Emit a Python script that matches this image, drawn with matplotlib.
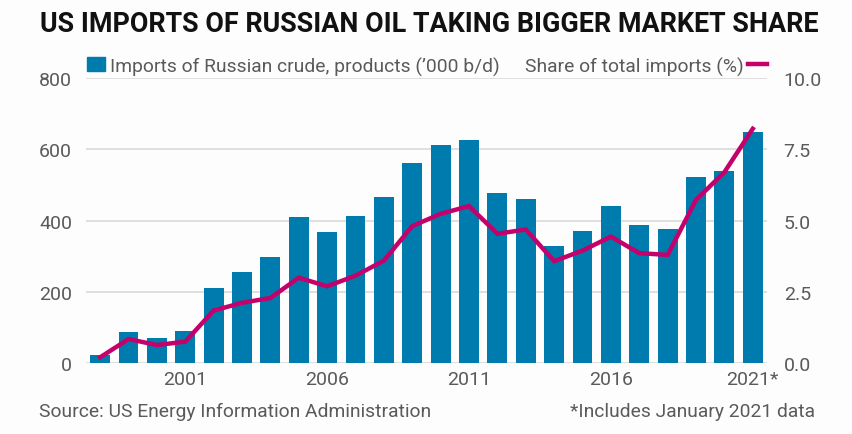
import numpy as np
import matplotlib
matplotlib.use("Agg")
import matplotlib.pyplot as plt
from matplotlib import font_manager

years = list(range(1998, 2022))
imports_kbd = [23, 89, 72, 90, 210, 255, 298, 410, 369, 414, 465, 563,
               613, 625, 478, 461, 330, 370, 442, 389, 376, 522, 540, 648]
share_pct = [0.21, 0.85, 0.64, 0.76, 1.85, 2.12, 2.29, 3.0, 2.70, 3.07, 3.6, 4.81,
             5.24, 5.51, 4.54, 4.69, 3.58, 3.95, 4.44, 3.86, 3.80, 5.73, 6.70, 8.22]
xtick_years = [2001, 2006, 2011, 2016, 2021]
xtick_labels = ["2001", "2006", "2011", "2016", "2021*"]
left_ticks = [0, 200, 400, 600, 800]
right_ticks = [0.0, 2.5, 5.0, 7.5, 10.0]

BLUE = "#007bad"
PINK = "#c4006b"
GREY = "#5a5a5a"
GRID = "#dcdcdc"

names = {f.name for f in font_manager.fontManager.ttflist}
body_font = "Roboto" if "Roboto" in names else "DejaVu Sans"
title_font = "Liberation Sans Narrow" if "Liberation Sans Narrow" in names else body_font
plt.rcParams['font.family'] = [body_font, 'DejaVu Sans']

fig = plt.figure(figsize=(8.52, 4.35), dpi=100, facecolor="#fdfdfd")
ax = fig.add_axes([0.1009, 0.1625, 0.7993, 0.6559])
ax.set_facecolor("#fdfdfd")
ax2 = ax.twinx()

ax.bar(years, imports_kbd, width=0.7, color=BLUE, zorder=2)
ax2.plot(years, share_pct, color=PINK, lw=3.2, solid_joinstyle="miter", zorder=3)

ax.set_xlim(1997.5, 2021.5)
ax.set_ylim(0, 800)
ax2.set_ylim(0, 10)
ax.set_yticks(left_ticks)
ax.set_yticklabels([str(t) for t in left_ticks])
ax2.set_yticks(right_ticks)
ax2.set_yticklabels([f"{t:.1f}" for t in right_ticks])
ax.set_xticks(xtick_years)
ax.set_xticklabels(xtick_labels)

ax.grid(axis="y", color=GRID, lw=1.3, zorder=0)
ax.set_axisbelow(True)
for a in (ax, ax2):
    for s in a.spines.values():
        s.set_visible(False)
    a.tick_params(length=0, colors=GREY, labelsize=14)
ax.tick_params(axis="y", pad=10)
ax2.tick_params(axis="y", pad=12)
ax.tick_params(axis="x", pad=5)

fig.text(0.047, 0.944, "US IMPORTS OF RUSSIAN OIL TAKING BIGGER MARKET SHARE",
         fontsize=19.4, fontweight="bold", family=title_font, color="#111111", va="center")

# legend row
fig.patches.append(plt.Rectangle((0.102, 0.834), 0.021, 0.033, transform=fig.transFigure,
                                 color=BLUE))
fig.text(0.129, 0.846, "Imports of Russian crude, products (\u2019000 b/d)",
         fontsize=13.9, color=GREY, va="center")
fig.text(0.873, 0.846, "Share of total imports (%)", fontsize=13.9, color=GREY,
         va="center", ha="right")
fig.lines.append(plt.Line2D([0.878, 0.900], [0.851, 0.851], transform=fig.transFigure,
                            color=PINK, lw=3.2))

fig.text(0.046, 0.053, "Source: US Energy Information Administration",
         fontsize=13.9, color=GREY, va="center")
fig.text(0.957, 0.053, "*Includes January 2021 data",
         fontsize=13.9, color=GREY, va="center", ha="right")

fig.savefig("out.png", dpi=100, facecolor=fig.get_facecolor())
